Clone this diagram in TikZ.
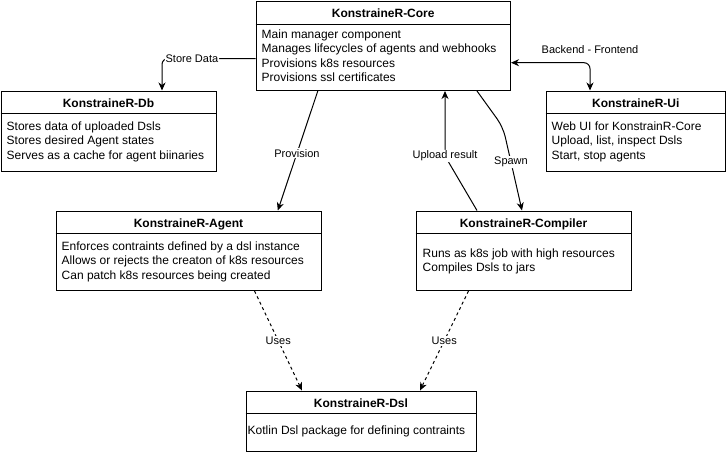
\documentclass[tikz,border=0pt]{standalone}
\usepackage{fontspec}
\setmainfont{Liberation Sans}
\usetikzlibrary{arrows.meta,calc}
\begin{document}
\begin{tikzpicture}[x=1pt,y=-1pt,
  box/.style={draw, line width=1pt, anchor=north west, inner sep=0pt},
  hdr/.style={font=\fontsize{12}{14}\selectfont\bfseries, anchor=base, inner sep=0pt},
  body/.style={font=\fontsize{12}{14.5}\selectfont, anchor=north west, align=left, inner sep=0pt},
  sep/.style={line width=1pt},
  conn/.style={line width=1pt, -{Stealth[length=8pt,width=7pt,inset=2.5pt]}},
  bothconn/.style={line width=1pt, {Stealth[length=8pt,width=7pt,inset=2.5pt]}-{Stealth[length=8pt,width=7pt,inset=2.5pt]}},
  usesconn/.style={conn, dash pattern=on 3pt off 3pt},
  elabel/.style={font=\fontsize{11}{13}\selectfont, fill=white, inner sep=1pt},
]
\useasboundingbox (0,0) rectangle (726,451);

% Core
\node[box, minimum width=254.5pt, minimum height=89pt] (core) at (255.5,1) {};
\draw[sep] ($(core.north west)+(0,23.5)$) -- ($(core.north east)+(0,23.5)$);
\node[hdr] (coreT) at ($(core.north)+(0,16)$) {KonstraineR-Core};
\node[body] (coreB) at ($(core.north west)+(6,28.5)$) {Main manager component\\Manages lifecycles of agents and webhooks\\Provisions k8s resources\\Provisions ssl certificates};

% Db
\node[box, minimum width=215pt, minimum height=80pt] (db) at (0.5,90.5) {};
\draw[sep] ($(db.north west)+(0,23)$) -- ($(db.north east)+(0,23)$);
\node[hdr] (dbT) at ($(db.north)+(0,16.5)$) {KonstraineR-Db};
\node[body] (dbB) at ($(db.north west)+(6,30.7)$) {Stores data of uploaded Dsls\\Stores desired Agent states\\Serves as a cache for agent biinaries};

% Ui
\node[box, minimum width=179.5pt, minimum height=80pt] (ui) at (545.5,90.5) {};
\draw[sep] ($(ui.north west)+(0,23)$) -- ($(ui.north east)+(0,23)$);
\node[hdr] (uiT) at ($(ui.north)+(0,16.5)$) {KonstraineR-Ui};
\node[body] (uiB) at ($(ui.north west)+(6,30.7)$) {Web UI for KonstrainR-Core\\Upload, list, inspect Dsls\\Start, stop agents};

% Agent
\node[box, minimum width=265pt, minimum height=79.5pt] (agent) at (55.5,210.5) {};
\draw[sep] ($(agent.north west)+(0,23)$) -- ($(agent.north east)+(0,23)$);
\node[hdr] (agentT) at ($(agent.north)+(0,16.5)$) {KonstraineR-Agent};
\node[body] (agentB) at ($(agent.north west)+(6,30.7)$) {Enforces contraints defined by a dsl instance\\Allows or rejects the creaton of k8s resources\\Can patch k8s resources being created};

% Compiler
\node[box, minimum width=215pt, minimum height=79.5pt] (compiler) at (415.5,210.5) {};
\draw[sep] ($(compiler.north west)+(0,23)$) -- ($(compiler.north east)+(0,23)$);
\node[hdr] (compilerT) at ($(compiler.north)+(0,16.5)$) {KonstraineR-Compiler};
\node[body] (compilerB) at ($(compiler.north west)+(7,37.7)$) {Runs as k8s job with high resources\\Compiles Dsls to jars};

% Dsl
\node[box, minimum width=230pt, minimum height=60pt] (dsl) at (245.5,390.5) {};
\draw[sep] ($(dsl.north west)+(0,23)$) -- ($(dsl.north east)+(0,23)$);
\node[hdr] (dslT) at ($(dsl.north)+(0,16.5)$) {KonstraineR-Dsl};
\node[body] (dslB) at ($(dsl.north west)+(2,35)$) {Kotlin Dsl package for defining contraints};

% Connectors
\draw[conn, rounded corners=6pt] ($(core.north west)+(0,57.5)$) -| ($(db.north west)+(161.5,0)$)
  node[elabel, pos=0.34] {Store Data};
\draw[bothconn, rounded corners=6pt] ($(core.north east)+(0,61.7)$) -| ($(ui.north west)+(44.5,0)$)
  node[elabel, pos=0.5, yshift=12.7pt] {Backend - Frontend};
\draw[conn] ($(core.south west)+(62.3,0)$) -- ($(agent.north west)+(222.3,0)$)
  node[elabel, pos=0.52] {Provision};
\coordinate (upw) at (445,156);
\draw[conn, rounded corners=4pt] ($(compiler.north west)+(61.5,0)$) -- (upw)
  node[elabel] {Upload result} -- ($(core.south west)+(189.5,0)$);
\coordinate (spw) at (503,127);
\draw[conn, rounded corners=10pt] ($(core.south west)+(221.5,0)$) -- (spw)
  -- ($(compiler.north west)+(106.5,0)$) node[elabel, pos=0.42] {Spawn};
\draw[usesconn] ($(agent.south west)+(199,0)$) -- ($(dsl.north west)+(56.5,0)$)
  node[elabel, pos=0.5] {Uses};
\draw[usesconn] ($(compiler.south west)+(53,0)$) -- ($(dsl.north west)+(174.5,0)$)
  node[elabel, pos=0.5] {Uses};
\end{tikzpicture}
\end{document}
